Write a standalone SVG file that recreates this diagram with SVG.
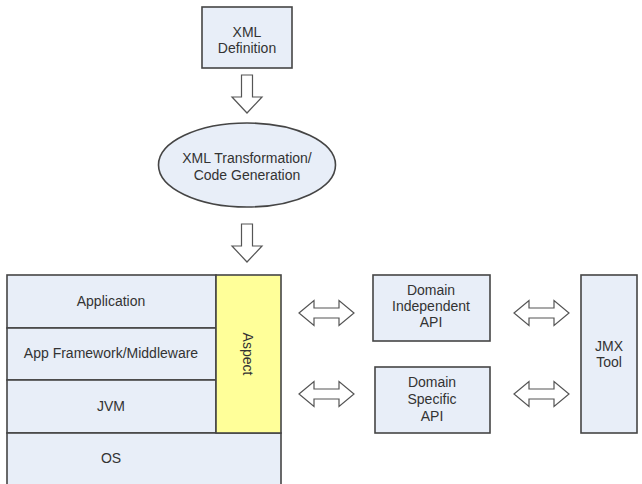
<svg xmlns="http://www.w3.org/2000/svg" width="642" height="484" viewBox="0 0 642 484">
<style>
.box{fill:#E8EEF8;stroke:#454545;stroke-width:1.6}
.asp{fill:#FFFF99;stroke:#454545;stroke-width:1.6}
.arr{fill:#FFFFFF;stroke:#555555;stroke-width:1.2;stroke-linejoin:miter}
text{font-family:"Liberation Sans",Arial,sans-serif;font-size:14px;fill:#333333;text-anchor:middle}
</style>
<defs>
<path id="down" class="arr" d="M-5.5,0 H5.5 V22 H15 L0,38 L-15,22 H-5.5 Z"/>
<path id="dbl" class="arr" d="M0,0 L15,-12.5 V-5 H40 V-12.5 L55,0 L40,12.5 V5 H15 V12.5 Z"/>
</defs>
<rect width="642" height="484" fill="#FFFFFF"/>
<g id="xml-definition">
<rect class="box" x="202" y="7" width="90" height="61"/>
<text x="247" y="37">XML</text>
<text x="247" y="53">Definition</text>
</g>
<g id="transformation">
<ellipse class="box" cx="247" cy="165" rx="88.5" ry="42"/>
<text x="247" y="163">XML Transformation/</text>
<text x="247" y="180">Code Generation</text>
</g>
<g id="application">
<rect class="box" x="7" y="275" width="209" height="53"/>
<text x="111" y="306">Application</text>
</g>
<g id="framework">
<rect class="box" x="7" y="328" width="209" height="52"/>
<text x="111" y="358">App Framework/Middleware</text>
</g>
<g id="jvm">
<rect class="box" x="7" y="380" width="209" height="53"/>
<text x="111" y="411">JVM</text>
</g>
<g id="os">
<rect class="box" x="7" y="433" width="274" height="60"/>
<text x="111" y="463">OS</text>
</g>
<g id="aspect">
<rect class="asp" x="216" y="275" width="65" height="158"/>
<text transform="translate(243,354) rotate(90)">Aspect</text>
</g>
<g id="domain-independent">
<rect class="box" x="373" y="275" width="117" height="66"/>
<text x="431" y="295">Domain</text>
<text x="431" y="311">Independent</text>
<text x="431" y="327">API</text>
</g>
<g id="domain-specific">
<rect class="box" x="375" y="367" width="115" height="66"/>
<text x="432" y="387">Domain</text>
<text x="432" y="404">Specific</text>
<text x="432" y="421">API</text>
</g>
<g id="jmx-tool">
<rect class="box" x="581" y="275" width="56" height="158"/>
<text x="609" y="351">JMX</text>
<text x="609" y="367">Tool</text>
</g>
<g id="connectors">
<use href="#down" x="247" y="75"/>
<use href="#down" x="247" y="224"/>
<use href="#dbl" x="299" y="313"/>
<use href="#dbl" x="299" y="394"/>
<use href="#dbl" x="514" y="313"/>
<use href="#dbl" x="514" y="394"/>
</g>
</svg>
